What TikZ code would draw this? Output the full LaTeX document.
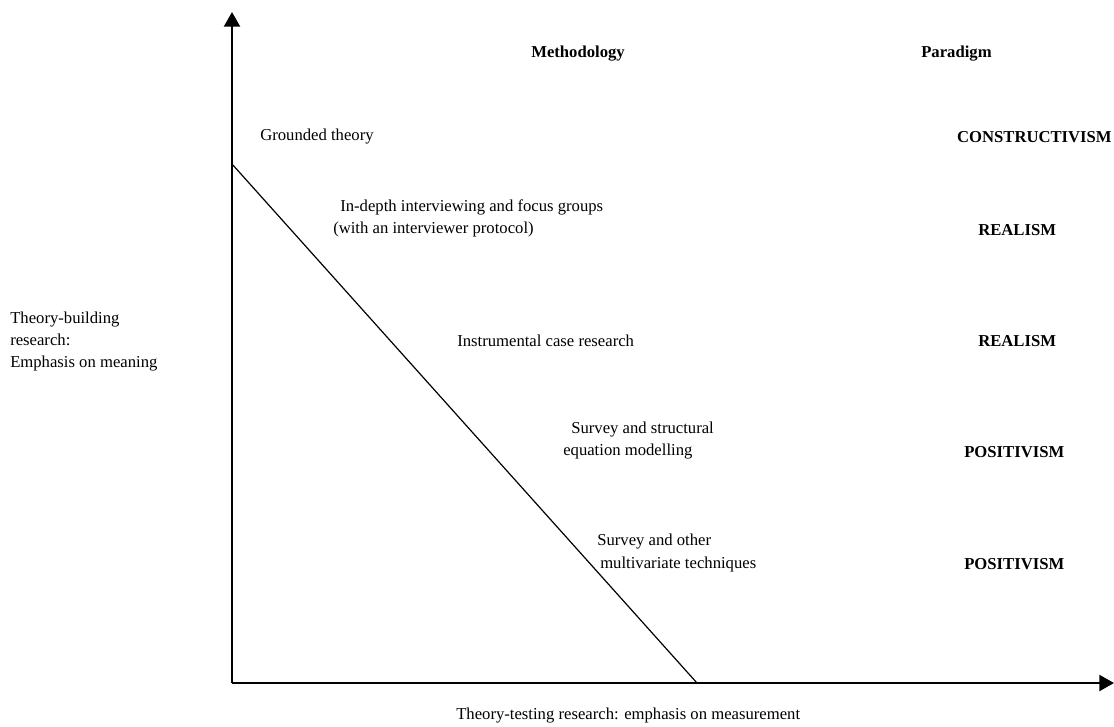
\documentclass[tikz,border=0pt]{standalone}
\usepackage{fontspec}
\setmainfont{Liberation Serif}
\usetikzlibrary{arrows.meta}
\begin{document}
\begin{tikzpicture}[x=0.75pt,y=-0.75pt,
  axis/.style={line width=1.6pt,-{Triangle[length=11pt,width=12pt]}},
  txt/.style={anchor=west,inner sep=0pt,font=\fontsize{12.5pt}{16.5pt}\selectfont},
  head/.style={txt,font=\fontsize{12.5pt}{16.5pt}\selectfont\bfseries}]
\useasboundingbox (0,0) rectangle (1114,726);
% axes
\coordinate (origin) at (232,683);
\coordinate (ytop) at (232,12);
\coordinate (xend) at (1114,683);
\draw[axis] (origin) -- (ytop);
\draw[axis] (origin) -- (xend);
% diagonal boundary
\coordinate (dtop) at (232,164);
\coordinate (dbot) at (697,683);
\draw[line width=0.9pt] (dtop) -- (dbot);
% column headings
\node[head] (meth) at (531,54) {Methodology};
\node[head] (para) at (921,54) {Paradigm};
% methodologies
\node[txt] (gt) at (260,137) {Grounded theory};
\node[txt] (idi1) at (340,207) {In-depth interviewing and focus groups};
\node[txt] (idi2) at (333,229) {(with an interviewer protocol)};
\node[txt] (icr) at (457,341) {Instrumental case research};
\node[txt] (sem1) at (571,430) {Survey and structural};
\node[txt] (sem2) at (563,452) {equation modelling};
\node[txt] (smt1) at (597,542) {Survey and other};
\node[txt] (smt2) at (600,564) {multivariate techniques};
% paradigms
\node[head,anchor=east] (p1) at (1112,137) {CONSTRUCTIVISM};
\node[head] (p2) at (978,230) {REALISM};
\node[head] (p3) at (978,341) {REALISM};
\node[head] (p4) at (964,452) {POSITIVISM};
\node[head] (p5) at (964,564) {POSITIVISM};
% axis labels
\node[txt,align=left] (ylab) at (10,342) {Theory-building\\research:\\Emphasis on meaning};
\node[txt] (xlab) at (456,716) {Theory-testing research: emphasis on measurement};
\end{tikzpicture}
\end{document}
